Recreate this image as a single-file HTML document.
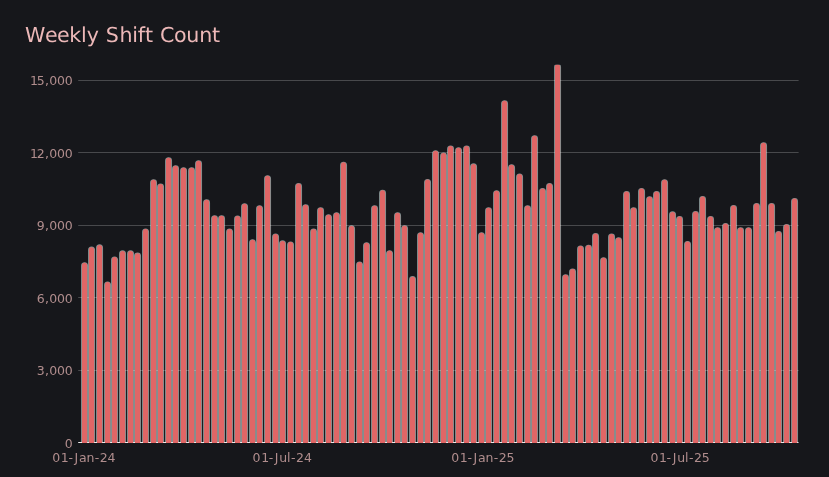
<!DOCTYPE html>
<html><head><meta charset="utf-8"><title>Weekly Shift Count</title>
<style>
html,body{margin:0;padding:0;background:#16171b;}
body{width:829px;height:477px;overflow:hidden;}
svg{display:block;}
text{font-family:"DejaVu Sans","Liberation Sans",sans-serif;}
.t{font-size:20.6px;text-rendering:geometricPrecision;fill:#ecb8b8;}
.y{font-size:12.5px;fill:#b08d8d;}
.x{font-size:12.5px;fill:#b08d8d;}
.g{stroke:#4a4b4f;stroke-width:1;shape-rendering:crispEdges;}
.b{fill:#e06666;stroke:#838f8f;stroke-width:1;}
</style></head><body>
<svg width="829" height="477" viewBox="0 0 829 477">
<rect width="829" height="477" fill="#16171b"/>

<text class="t" x="25.10 45.07 57.11 69.14 81.09 86.64 98.59 105.69 119.50 132.28 137.83 144.93 152.89 159.99 174.09 186.35 199.14 211.92" y="42">Weekly Shift Count</text>
<text class="y" x="29.89 36.85 44.91 49.14 56.96 64.78" y="85">15,000</text>
<text class="y" x="29.89 36.85 44.91 49.14 56.96 64.78" y="158">12,000</text>
<text class="y" x="36.85 44.91 49.14 56.96 64.78" y="230">9,000</text>
<text class="y" x="36.85 44.91 49.14 56.96 64.78" y="303">6,000</text>
<text class="y" x="36.85 44.91 49.14 56.96 64.78" y="375">3,000</text>
<text class="y" x="64.78" y="448">0</text>
<clipPath id="c"><rect x="78" y="64.8" width="722" height="380"/></clipPath>
<path clip-path="url(#c)" fill="#838f8f" d="M81.05 442.5V265.75a3.5 3.5 0 0 1 3.5 -3.5h0.00a3.5 3.5 0 0 1 3.5 3.5V442.5zM88.05 442.5V250.05a3.5 3.5 0 0 1 3.5 -3.5h0.00a3.5 3.5 0 0 1 3.5 3.5V442.5zM96.05 442.5V247.85a3.5 3.5 0 0 1 3.5 -3.5h0.00a3.5 3.5 0 0 1 3.5 3.5V442.5zM104.05 442.5V284.95a3.5 3.5 0 0 1 3.5 -3.5h0.00a3.5 3.5 0 0 1 3.5 3.5V442.5zM111.05 442.5V259.95a3.5 3.5 0 0 1 3.5 -3.5h0.00a3.5 3.5 0 0 1 3.5 3.5V442.5zM119.05 442.5V253.85a3.5 3.5 0 0 1 3.5 -3.5h0.00a3.5 3.5 0 0 1 3.5 3.5V442.5zM127.05 442.5V253.85a3.5 3.5 0 0 1 3.5 -3.5h-0.00a3.5 3.5 0 0 1 3.5 3.5V442.5zM134.05 442.5V256.05a3.5 3.5 0 0 1 3.5 -3.5h-0.00a3.5 3.5 0 0 1 3.5 3.5V442.5zM142.05 442.5V232.00a3.5 3.5 0 0 1 3.5 -3.5h-0.00a3.5 3.5 0 0 1 3.5 3.5V442.5zM150.05 442.5V182.75a3.5 3.5 0 0 1 3.5 -3.5h-0.00a3.5 3.5 0 0 1 3.5 3.5V442.5zM157.05 442.5V187.00a3.5 3.5 0 0 1 3.5 -3.5h-0.00a3.5 3.5 0 0 1 3.5 3.5V442.5zM165.05 442.5V160.75a3.5 3.5 0 0 1 3.5 -3.5h-0.00a3.5 3.5 0 0 1 3.5 3.5V442.5zM172.05 442.5V168.75a3.5 3.5 0 0 1 3.5 -3.5h-0.00a3.5 3.5 0 0 1 3.5 3.5V442.5zM180.05 442.5V170.75a3.5 3.5 0 0 1 3.5 -3.5h-0.00a3.5 3.5 0 0 1 3.5 3.5V442.5zM188.05 442.5V170.75a3.5 3.5 0 0 1 3.5 -3.5h-0.00a3.5 3.5 0 0 1 3.5 3.5V442.5zM195.05 442.5V163.75a3.5 3.5 0 0 1 3.5 -3.5h-0.00a3.5 3.5 0 0 1 3.5 3.5V442.5zM203.05 442.5V202.75a3.5 3.5 0 0 1 3.5 -3.5h-0.00a3.5 3.5 0 0 1 3.5 3.5V442.5zM211.05 442.5V218.75a3.5 3.5 0 0 1 3.5 -3.5h-0.00a3.5 3.5 0 0 1 3.5 3.5V442.5zM218.05 442.5V218.75a3.5 3.5 0 0 1 3.5 -3.5h-0.00a3.5 3.5 0 0 1 3.5 3.5V442.5zM226.05 442.5V232.00a3.5 3.5 0 0 1 3.5 -3.5h-0.00a3.5 3.5 0 0 1 3.5 3.5V442.5zM234.05 442.5V219.00a3.5 3.5 0 0 1 3.5 -3.5h-0.00a3.5 3.5 0 0 1 3.5 3.5V442.5zM241.05 442.5V206.75a3.5 3.5 0 0 1 3.5 -3.5h-0.00a3.5 3.5 0 0 1 3.5 3.5V442.5zM249.05 442.5V242.75a3.5 3.5 0 0 1 3.5 -3.5h0.00a3.5 3.5 0 0 1 3.5 3.5V442.5zM256.05 442.5V208.75a3.5 3.5 0 0 1 3.5 -3.5h0.00a3.5 3.5 0 0 1 3.5 3.5V442.5zM264.05 442.5V178.75a3.5 3.5 0 0 1 3.5 -3.5h0.00a3.5 3.5 0 0 1 3.5 3.5V442.5zM272.05 442.5V237.00a3.5 3.5 0 0 1 3.5 -3.5h0.00a3.5 3.5 0 0 1 3.5 3.5V442.5zM279.05 442.5V243.85a3.5 3.5 0 0 1 3.5 -3.5h0.00a3.5 3.5 0 0 1 3.5 3.5V442.5zM287.05 442.5V245.00a3.5 3.5 0 0 1 3.5 -3.5h0.00a3.5 3.5 0 0 1 3.5 3.5V442.5zM295.05 442.5V186.50a3.5 3.5 0 0 1 3.5 -3.5h0.00a3.5 3.5 0 0 1 3.5 3.5V442.5zM302.05 442.5V207.75a3.5 3.5 0 0 1 3.5 -3.5h0.00a3.5 3.5 0 0 1 3.5 3.5V442.5zM310.05 442.5V232.00a3.5 3.5 0 0 1 3.5 -3.5h0.00a3.5 3.5 0 0 1 3.5 3.5V442.5zM317.05 442.5V210.75a3.5 3.5 0 0 1 3.5 -3.5h0.00a3.5 3.5 0 0 1 3.5 3.5V442.5zM325.05 442.5V217.75a3.5 3.5 0 0 1 3.5 -3.5h0.00a3.5 3.5 0 0 1 3.5 3.5V442.5zM333.05 442.5V215.75a3.5 3.5 0 0 1 3.5 -3.5h0.00a3.5 3.5 0 0 1 3.5 3.5V442.5zM340.05 442.5V165.25a3.5 3.5 0 0 1 3.5 -3.5h0.00a3.5 3.5 0 0 1 3.5 3.5V442.5zM348.05 442.5V228.85a3.5 3.5 0 0 1 3.5 -3.5h0.00a3.5 3.5 0 0 1 3.5 3.5V442.5zM356.05 442.5V265.00a3.5 3.5 0 0 1 3.5 -3.5h0.00a3.5 3.5 0 0 1 3.5 3.5V442.5zM363.05 442.5V245.75a3.5 3.5 0 0 1 3.5 -3.5h0.00a3.5 3.5 0 0 1 3.5 3.5V442.5zM371.05 442.5V208.75a3.5 3.5 0 0 1 3.5 -3.5h0.00a3.5 3.5 0 0 1 3.5 3.5V442.5zM379.05 442.5V193.25a3.5 3.5 0 0 1 3.5 -3.5h0.00a3.5 3.5 0 0 1 3.5 3.5V442.5zM386.05 442.5V253.65a3.5 3.5 0 0 1 3.5 -3.5h0.00a3.5 3.5 0 0 1 3.5 3.5V442.5zM394.05 442.5V215.75a3.5 3.5 0 0 1 3.5 -3.5h0.00a3.5 3.5 0 0 1 3.5 3.5V442.5zM401.05 442.5V228.75a3.5 3.5 0 0 1 3.5 -3.5h0.00a3.5 3.5 0 0 1 3.5 3.5V442.5zM409.05 442.5V279.55a3.5 3.5 0 0 1 3.5 -3.5h0.00a3.5 3.5 0 0 1 3.5 3.5V442.5zM417.05 442.5V235.65a3.5 3.5 0 0 1 3.5 -3.5h0.00a3.5 3.5 0 0 1 3.5 3.5V442.5zM424.05 442.5V182.50a3.5 3.5 0 0 1 3.5 -3.5h0.00a3.5 3.5 0 0 1 3.5 3.5V442.5zM432.05 442.5V153.75a3.5 3.5 0 0 1 3.5 -3.5h0.00a3.5 3.5 0 0 1 3.5 3.5V442.5zM440.05 442.5V156.00a3.5 3.5 0 0 1 3.5 -3.5h0.00a3.5 3.5 0 0 1 3.5 3.5V442.5zM447.05 442.5V149.00a3.5 3.5 0 0 1 3.5 -3.5h0.00a3.5 3.5 0 0 1 3.5 3.5V442.5zM455.05 442.5V150.75a3.5 3.5 0 0 1 3.5 -3.5h0.00a3.5 3.5 0 0 1 3.5 3.5V442.5zM463.05 442.5V149.00a3.5 3.5 0 0 1 3.5 -3.5h0.00a3.5 3.5 0 0 1 3.5 3.5V442.5zM470.05 442.5V166.85a3.5 3.5 0 0 1 3.5 -3.5h0.00a3.5 3.5 0 0 1 3.5 3.5V442.5zM478.05 442.5V235.65a3.5 3.5 0 0 1 3.5 -3.5h0.00a3.5 3.5 0 0 1 3.5 3.5V442.5zM485.05 442.5V210.75a3.5 3.5 0 0 1 3.5 -3.5h0.00a3.5 3.5 0 0 1 3.5 3.5V442.5zM493.05 442.5V193.75a3.5 3.5 0 0 1 3.5 -3.5h0.00a3.5 3.5 0 0 1 3.5 3.5V442.5zM501.05 442.5V103.75a3.5 3.5 0 0 1 3.5 -3.5h0.00a3.5 3.5 0 0 1 3.5 3.5V442.5zM508.05 442.5V167.65a3.5 3.5 0 0 1 3.5 -3.5h0.00a3.5 3.5 0 0 1 3.5 3.5V442.5zM516.05 442.5V176.95a3.5 3.5 0 0 1 3.5 -3.5h0.00a3.5 3.5 0 0 1 3.5 3.5V442.5zM524.05 442.5V208.75a3.5 3.5 0 0 1 3.5 -3.5h0.00a3.5 3.5 0 0 1 3.5 3.5V442.5zM531.05 442.5V138.75a3.5 3.5 0 0 1 3.5 -3.5h0.00a3.5 3.5 0 0 1 3.5 3.5V442.5zM539.05 442.5V191.50a3.5 3.5 0 0 1 3.5 -3.5h0.00a3.5 3.5 0 0 1 3.5 3.5V442.5zM546.05 442.5V186.50a3.5 3.5 0 0 1 3.5 -3.5h0.00a3.5 3.5 0 0 1 3.5 3.5V442.5zM554.05 442.5V67.05a3.5 3.5 0 0 1 3.5 -3.5h0.00a3.5 3.5 0 0 1 3.5 3.5V442.5zM562.05 442.5V277.75a3.5 3.5 0 0 1 3.5 -3.5h0.00a3.5 3.5 0 0 1 3.5 3.5V442.5zM569.05 442.5V272.00a3.5 3.5 0 0 1 3.5 -3.5h0.00a3.5 3.5 0 0 1 3.5 3.5V442.5zM577.05 442.5V249.00a3.5 3.5 0 0 1 3.5 -3.5h0.00a3.5 3.5 0 0 1 3.5 3.5V442.5zM585.05 442.5V248.25a3.5 3.5 0 0 1 3.5 -3.5h0.00a3.5 3.5 0 0 1 3.5 3.5V442.5zM592.05 442.5V236.50a3.5 3.5 0 0 1 3.5 -3.5h0.00a3.5 3.5 0 0 1 3.5 3.5V442.5zM600.05 442.5V260.75a3.5 3.5 0 0 1 3.5 -3.5h0.00a3.5 3.5 0 0 1 3.5 3.5V442.5zM608.05 442.5V237.00a3.5 3.5 0 0 1 3.5 -3.5h0.00a3.5 3.5 0 0 1 3.5 3.5V442.5zM615.05 442.5V240.75a3.5 3.5 0 0 1 3.5 -3.5h0.00a3.5 3.5 0 0 1 3.5 3.5V442.5zM623.05 442.5V194.50a3.5 3.5 0 0 1 3.5 -3.5h0.00a3.5 3.5 0 0 1 3.5 3.5V442.5zM630.05 442.5V210.75a3.5 3.5 0 0 1 3.5 -3.5h0.00a3.5 3.5 0 0 1 3.5 3.5V442.5zM638.05 442.5V191.50a3.5 3.5 0 0 1 3.5 -3.5h0.00a3.5 3.5 0 0 1 3.5 3.5V442.5zM646.05 442.5V199.75a3.5 3.5 0 0 1 3.5 -3.5h0.00a3.5 3.5 0 0 1 3.5 3.5V442.5zM653.05 442.5V194.50a3.5 3.5 0 0 1 3.5 -3.5h0.00a3.5 3.5 0 0 1 3.5 3.5V442.5zM661.05 442.5V182.65a3.5 3.5 0 0 1 3.5 -3.5h0.00a3.5 3.5 0 0 1 3.5 3.5V442.5zM669.05 442.5V214.85a3.5 3.5 0 0 1 3.5 -3.5h0.00a3.5 3.5 0 0 1 3.5 3.5V442.5zM676.05 442.5V219.50a3.5 3.5 0 0 1 3.5 -3.5h0.00a3.5 3.5 0 0 1 3.5 3.5V442.5zM684.05 442.5V244.50a3.5 3.5 0 0 1 3.5 -3.5h0.00a3.5 3.5 0 0 1 3.5 3.5V442.5zM692.05 442.5V214.50a3.5 3.5 0 0 1 3.5 -3.5h0.00a3.5 3.5 0 0 1 3.5 3.5V442.5zM699.05 442.5V199.50a3.5 3.5 0 0 1 3.5 -3.5h0.00a3.5 3.5 0 0 1 3.5 3.5V442.5zM707.05 442.5V219.50a3.5 3.5 0 0 1 3.5 -3.5h0.00a3.5 3.5 0 0 1 3.5 3.5V442.5zM714.05 442.5V230.75a3.5 3.5 0 0 1 3.5 -3.5h0.00a3.5 3.5 0 0 1 3.5 3.5V442.5zM722.05 442.5V226.50a3.5 3.5 0 0 1 3.5 -3.5h0.00a3.5 3.5 0 0 1 3.5 3.5V442.5zM730.05 442.5V208.50a3.5 3.5 0 0 1 3.5 -3.5h0.00a3.5 3.5 0 0 1 3.5 3.5V442.5zM737.05 442.5V230.75a3.5 3.5 0 0 1 3.5 -3.5h0.00a3.5 3.5 0 0 1 3.5 3.5V442.5zM745.05 442.5V230.75a3.5 3.5 0 0 1 3.5 -3.5h0.00a3.5 3.5 0 0 1 3.5 3.5V442.5zM753.05 442.5V206.50a3.5 3.5 0 0 1 3.5 -3.5h0.00a3.5 3.5 0 0 1 3.5 3.5V442.5zM760.05 442.5V145.75a3.5 3.5 0 0 1 3.5 -3.5h0.00a3.5 3.5 0 0 1 3.5 3.5V442.5zM768.05 442.5V206.50a3.5 3.5 0 0 1 3.5 -3.5h0.00a3.5 3.5 0 0 1 3.5 3.5V442.5zM775.05 442.5V234.50a3.5 3.5 0 0 1 3.5 -3.5h0.00a3.5 3.5 0 0 1 3.5 3.5V442.5zM783.05 442.5V227.50a3.5 3.5 0 0 1 3.5 -3.5h0.00a3.5 3.5 0 0 1 3.5 3.5V442.5zM791.05 442.5V201.50a3.5 3.5 0 0 1 3.5 -3.5h0.00a3.5 3.5 0 0 1 3.5 3.5V442.5z"/>
<rect x="78.2" y="80" width="720.4" height="1" fill="#fff" fill-opacity="0.215"/>
<rect x="78.2" y="152" width="720.4" height="1" fill="#fff" fill-opacity="0.215"/>
<rect x="78.2" y="225" width="720.4" height="1" fill="#fff" fill-opacity="0.215"/>
<rect x="78.2" y="297" width="720.4" height="1" fill="#fff" fill-opacity="0.215"/>
<rect x="78.2" y="370" width="720.4" height="1" fill="#fff" fill-opacity="0.215"/>
<rect x="78.2" y="442" width="720.3" height="1" fill="#ececec"/>
<path clip-path="url(#c)" fill="#e06666" d="M82.00 443V265.40a2.55 2.55 0 0 1 2.55 -2.55h-0.00a2.55 2.55 0 0 1 2.55 2.55V443zM89.00 443V249.70a2.55 2.55 0 0 1 2.55 -2.55h-0.00a2.55 2.55 0 0 1 2.55 2.55V443zM97.00 443V247.50a2.55 2.55 0 0 1 2.55 -2.55h-0.00a2.55 2.55 0 0 1 2.55 2.55V443zM105.00 443V284.60a2.55 2.55 0 0 1 2.55 -2.55h-0.00a2.55 2.55 0 0 1 2.55 2.55V443zM112.00 443V259.60a2.55 2.55 0 0 1 2.55 -2.55h-0.00a2.55 2.55 0 0 1 2.55 2.55V443zM120.00 443V253.50a2.55 2.55 0 0 1 2.55 -2.55h-0.00a2.55 2.55 0 0 1 2.55 2.55V443zM128.00 443V253.50a2.55 2.55 0 0 1 2.55 -2.55h-0.00a2.55 2.55 0 0 1 2.55 2.55V443zM135.00 443V255.70a2.55 2.55 0 0 1 2.55 -2.55h-0.00a2.55 2.55 0 0 1 2.55 2.55V443zM143.00 443V231.65a2.55 2.55 0 0 1 2.55 -2.55h-0.00a2.55 2.55 0 0 1 2.55 2.55V443zM151.00 443V182.40a2.55 2.55 0 0 1 2.55 -2.55h-0.00a2.55 2.55 0 0 1 2.55 2.55V443zM158.00 443V186.65a2.55 2.55 0 0 1 2.55 -2.55h-0.00a2.55 2.55 0 0 1 2.55 2.55V443zM166.00 443V160.40a2.55 2.55 0 0 1 2.55 -2.55h-0.00a2.55 2.55 0 0 1 2.55 2.55V443zM173.00 443V168.40a2.55 2.55 0 0 1 2.55 -2.55h-0.00a2.55 2.55 0 0 1 2.55 2.55V443zM181.00 443V170.40a2.55 2.55 0 0 1 2.55 -2.55h-0.00a2.55 2.55 0 0 1 2.55 2.55V443zM189.00 443V170.40a2.55 2.55 0 0 1 2.55 -2.55h-0.00a2.55 2.55 0 0 1 2.55 2.55V443zM196.00 443V163.40a2.55 2.55 0 0 1 2.55 -2.55h-0.00a2.55 2.55 0 0 1 2.55 2.55V443zM204.00 443V202.40a2.55 2.55 0 0 1 2.55 -2.55h-0.00a2.55 2.55 0 0 1 2.55 2.55V443zM212.00 443V218.40a2.55 2.55 0 0 1 2.55 -2.55h-0.00a2.55 2.55 0 0 1 2.55 2.55V443zM219.00 443V218.40a2.55 2.55 0 0 1 2.55 -2.55h-0.00a2.55 2.55 0 0 1 2.55 2.55V443zM227.00 443V231.65a2.55 2.55 0 0 1 2.55 -2.55h-0.00a2.55 2.55 0 0 1 2.55 2.55V443zM235.00 443V218.65a2.55 2.55 0 0 1 2.55 -2.55h-0.00a2.55 2.55 0 0 1 2.55 2.55V443zM242.00 443V206.40a2.55 2.55 0 0 1 2.55 -2.55h-0.00a2.55 2.55 0 0 1 2.55 2.55V443zM250.00 443V242.40a2.55 2.55 0 0 1 2.55 -2.55h-0.00a2.55 2.55 0 0 1 2.55 2.55V443zM257.00 443V208.40a2.55 2.55 0 0 1 2.55 -2.55h0.00a2.55 2.55 0 0 1 2.55 2.55V443zM265.00 443V178.40a2.55 2.55 0 0 1 2.55 -2.55h0.00a2.55 2.55 0 0 1 2.55 2.55V443zM273.00 443V236.65a2.55 2.55 0 0 1 2.55 -2.55h0.00a2.55 2.55 0 0 1 2.55 2.55V443zM280.00 443V243.50a2.55 2.55 0 0 1 2.55 -2.55h0.00a2.55 2.55 0 0 1 2.55 2.55V443zM288.00 443V244.65a2.55 2.55 0 0 1 2.55 -2.55h0.00a2.55 2.55 0 0 1 2.55 2.55V443zM296.00 443V186.15a2.55 2.55 0 0 1 2.55 -2.55h0.00a2.55 2.55 0 0 1 2.55 2.55V443zM303.00 443V207.40a2.55 2.55 0 0 1 2.55 -2.55h0.00a2.55 2.55 0 0 1 2.55 2.55V443zM311.00 443V231.65a2.55 2.55 0 0 1 2.55 -2.55h0.00a2.55 2.55 0 0 1 2.55 2.55V443zM318.00 443V210.40a2.55 2.55 0 0 1 2.55 -2.55h0.00a2.55 2.55 0 0 1 2.55 2.55V443zM326.00 443V217.40a2.55 2.55 0 0 1 2.55 -2.55h0.00a2.55 2.55 0 0 1 2.55 2.55V443zM334.00 443V215.40a2.55 2.55 0 0 1 2.55 -2.55h0.00a2.55 2.55 0 0 1 2.55 2.55V443zM341.00 443V164.90a2.55 2.55 0 0 1 2.55 -2.55h0.00a2.55 2.55 0 0 1 2.55 2.55V443zM349.00 443V228.50a2.55 2.55 0 0 1 2.55 -2.55h0.00a2.55 2.55 0 0 1 2.55 2.55V443zM357.00 443V264.65a2.55 2.55 0 0 1 2.55 -2.55h0.00a2.55 2.55 0 0 1 2.55 2.55V443zM364.00 443V245.40a2.55 2.55 0 0 1 2.55 -2.55h0.00a2.55 2.55 0 0 1 2.55 2.55V443zM372.00 443V208.40a2.55 2.55 0 0 1 2.55 -2.55h0.00a2.55 2.55 0 0 1 2.55 2.55V443zM380.00 443V192.90a2.55 2.55 0 0 1 2.55 -2.55h0.00a2.55 2.55 0 0 1 2.55 2.55V443zM387.00 443V253.30a2.55 2.55 0 0 1 2.55 -2.55h0.00a2.55 2.55 0 0 1 2.55 2.55V443zM395.00 443V215.40a2.55 2.55 0 0 1 2.55 -2.55h0.00a2.55 2.55 0 0 1 2.55 2.55V443zM402.00 443V228.40a2.55 2.55 0 0 1 2.55 -2.55h0.00a2.55 2.55 0 0 1 2.55 2.55V443zM410.00 443V279.20a2.55 2.55 0 0 1 2.55 -2.55h0.00a2.55 2.55 0 0 1 2.55 2.55V443zM418.00 443V235.30a2.55 2.55 0 0 1 2.55 -2.55h0.00a2.55 2.55 0 0 1 2.55 2.55V443zM425.00 443V182.15a2.55 2.55 0 0 1 2.55 -2.55h0.00a2.55 2.55 0 0 1 2.55 2.55V443zM433.00 443V153.40a2.55 2.55 0 0 1 2.55 -2.55h0.00a2.55 2.55 0 0 1 2.55 2.55V443zM441.00 443V155.65a2.55 2.55 0 0 1 2.55 -2.55h0.00a2.55 2.55 0 0 1 2.55 2.55V443zM448.00 443V148.65a2.55 2.55 0 0 1 2.55 -2.55h0.00a2.55 2.55 0 0 1 2.55 2.55V443zM456.00 443V150.40a2.55 2.55 0 0 1 2.55 -2.55h0.00a2.55 2.55 0 0 1 2.55 2.55V443zM464.00 443V148.65a2.55 2.55 0 0 1 2.55 -2.55h0.00a2.55 2.55 0 0 1 2.55 2.55V443zM471.00 443V166.50a2.55 2.55 0 0 1 2.55 -2.55h0.00a2.55 2.55 0 0 1 2.55 2.55V443zM479.00 443V235.30a2.55 2.55 0 0 1 2.55 -2.55h0.00a2.55 2.55 0 0 1 2.55 2.55V443zM486.00 443V210.40a2.55 2.55 0 0 1 2.55 -2.55h0.00a2.55 2.55 0 0 1 2.55 2.55V443zM494.00 443V193.40a2.55 2.55 0 0 1 2.55 -2.55h0.00a2.55 2.55 0 0 1 2.55 2.55V443zM502.00 443V103.40a2.55 2.55 0 0 1 2.55 -2.55h0.00a2.55 2.55 0 0 1 2.55 2.55V443zM509.00 443V167.30a2.55 2.55 0 0 1 2.55 -2.55h0.00a2.55 2.55 0 0 1 2.55 2.55V443zM517.00 443V176.60a2.55 2.55 0 0 1 2.55 -2.55h0.00a2.55 2.55 0 0 1 2.55 2.55V443zM525.00 443V208.40a2.55 2.55 0 0 1 2.55 -2.55h0.00a2.55 2.55 0 0 1 2.55 2.55V443zM532.00 443V138.40a2.55 2.55 0 0 1 2.55 -2.55h0.00a2.55 2.55 0 0 1 2.55 2.55V443zM540.00 443V191.15a2.55 2.55 0 0 1 2.55 -2.55h0.00a2.55 2.55 0 0 1 2.55 2.55V443zM547.00 443V186.15a2.55 2.55 0 0 1 2.55 -2.55h0.00a2.55 2.55 0 0 1 2.55 2.55V443zM555.00 443V66.70a2.55 2.55 0 0 1 2.55 -2.55h0.00a2.55 2.55 0 0 1 2.55 2.55V443zM563.00 443V277.40a2.55 2.55 0 0 1 2.55 -2.55h0.00a2.55 2.55 0 0 1 2.55 2.55V443zM570.00 443V271.65a2.55 2.55 0 0 1 2.55 -2.55h0.00a2.55 2.55 0 0 1 2.55 2.55V443zM578.00 443V248.65a2.55 2.55 0 0 1 2.55 -2.55h0.00a2.55 2.55 0 0 1 2.55 2.55V443zM586.00 443V247.90a2.55 2.55 0 0 1 2.55 -2.55h0.00a2.55 2.55 0 0 1 2.55 2.55V443zM593.00 443V236.15a2.55 2.55 0 0 1 2.55 -2.55h0.00a2.55 2.55 0 0 1 2.55 2.55V443zM601.00 443V260.40a2.55 2.55 0 0 1 2.55 -2.55h0.00a2.55 2.55 0 0 1 2.55 2.55V443zM609.00 443V236.65a2.55 2.55 0 0 1 2.55 -2.55h0.00a2.55 2.55 0 0 1 2.55 2.55V443zM616.00 443V240.40a2.55 2.55 0 0 1 2.55 -2.55h0.00a2.55 2.55 0 0 1 2.55 2.55V443zM624.00 443V194.15a2.55 2.55 0 0 1 2.55 -2.55h0.00a2.55 2.55 0 0 1 2.55 2.55V443zM631.00 443V210.40a2.55 2.55 0 0 1 2.55 -2.55h0.00a2.55 2.55 0 0 1 2.55 2.55V443zM639.00 443V191.15a2.55 2.55 0 0 1 2.55 -2.55h0.00a2.55 2.55 0 0 1 2.55 2.55V443zM647.00 443V199.40a2.55 2.55 0 0 1 2.55 -2.55h0.00a2.55 2.55 0 0 1 2.55 2.55V443zM654.00 443V194.15a2.55 2.55 0 0 1 2.55 -2.55h0.00a2.55 2.55 0 0 1 2.55 2.55V443zM662.00 443V182.30a2.55 2.55 0 0 1 2.55 -2.55h0.00a2.55 2.55 0 0 1 2.55 2.55V443zM670.00 443V214.50a2.55 2.55 0 0 1 2.55 -2.55h0.00a2.55 2.55 0 0 1 2.55 2.55V443zM677.00 443V219.15a2.55 2.55 0 0 1 2.55 -2.55h0.00a2.55 2.55 0 0 1 2.55 2.55V443zM685.00 443V244.15a2.55 2.55 0 0 1 2.55 -2.55h0.00a2.55 2.55 0 0 1 2.55 2.55V443zM693.00 443V214.15a2.55 2.55 0 0 1 2.55 -2.55h0.00a2.55 2.55 0 0 1 2.55 2.55V443zM700.00 443V199.15a2.55 2.55 0 0 1 2.55 -2.55h0.00a2.55 2.55 0 0 1 2.55 2.55V443zM708.00 443V219.15a2.55 2.55 0 0 1 2.55 -2.55h0.00a2.55 2.55 0 0 1 2.55 2.55V443zM715.00 443V230.40a2.55 2.55 0 0 1 2.55 -2.55h0.00a2.55 2.55 0 0 1 2.55 2.55V443zM723.00 443V226.15a2.55 2.55 0 0 1 2.55 -2.55h0.00a2.55 2.55 0 0 1 2.55 2.55V443zM731.00 443V208.15a2.55 2.55 0 0 1 2.55 -2.55h0.00a2.55 2.55 0 0 1 2.55 2.55V443zM738.00 443V230.40a2.55 2.55 0 0 1 2.55 -2.55h0.00a2.55 2.55 0 0 1 2.55 2.55V443zM746.00 443V230.40a2.55 2.55 0 0 1 2.55 -2.55h0.00a2.55 2.55 0 0 1 2.55 2.55V443zM754.00 443V206.15a2.55 2.55 0 0 1 2.55 -2.55h0.00a2.55 2.55 0 0 1 2.55 2.55V443zM761.00 443V145.40a2.55 2.55 0 0 1 2.55 -2.55h0.00a2.55 2.55 0 0 1 2.55 2.55V443zM769.00 443V206.15a2.55 2.55 0 0 1 2.55 -2.55h0.00a2.55 2.55 0 0 1 2.55 2.55V443zM776.00 443V234.15a2.55 2.55 0 0 1 2.55 -2.55h0.00a2.55 2.55 0 0 1 2.55 2.55V443zM784.00 443V227.15a2.55 2.55 0 0 1 2.55 -2.55h0.00a2.55 2.55 0 0 1 2.55 2.55V443zM792.00 443V201.15a2.55 2.55 0 0 1 2.55 -2.55h0.00a2.55 2.55 0 0 1 2.55 2.55V443z"/>
<text class="x" x="52.19 60.87 68.39 74.53 79.01 86.40 94.73 99.77 107.59" y="462">01-Jan-24</text>
<text class="x" x="252.50 261.18 268.69 274.83 279.32 287.10 291.03 296.06 303.88" y="462">01-Jul-24</text>
<text class="x" x="451.19 459.87 467.39 473.53 478.01 485.40 493.73 498.77 506.59" y="462">01-Jan-25</text>
<text class="x" x="650.40 659.08 666.59 672.73 677.22 685.00 688.93 693.96 701.78" y="462">01-Jul-25</text>
</svg></body></html>
